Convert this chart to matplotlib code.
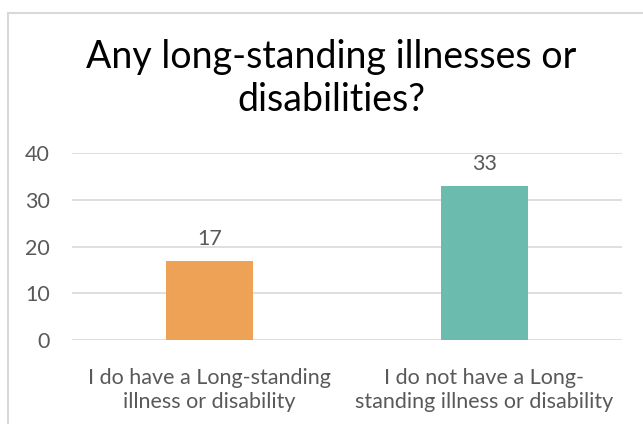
import matplotlib.pyplot as plt
from matplotlib.lines import Line2D

# ---------------- data ----------------
categories = ["I do have a Long-standing\nillness or disability",
              "I do not have a Long-\nstanding illness or disability"]
counts = [17, 33]
bar_colors = ["#EDA256", "#6BBBAE"]
yticks = [0, 10, 20, 30, 40]

text_col = "#595959"
plt.rcParams['font.family'] = ['Lato', 'DejaVu Sans']

fig = plt.figure(figsize=(6.43, 4.24), dpi=100)
ax = fig.add_axes([0.112, 0.198, 0.855, 0.441])

x = list(range(len(categories)))
bars = ax.bar(x, counts, width=0.316, color=bar_colors, zorder=3)
for b, v in zip(bars, counts):
    ax.text(b.get_x() + b.get_width() / 2, v + 2.5, str(v), ha='center', va='bottom',
            fontsize=15.5, color=text_col)

ax.set_xlim(-0.5, 1.5)
ax.set_ylim(0, 40)
ax.set_yticks(yticks)
ax.set_xticks(x)
ax.set_xticklabels(categories, fontsize=15.5, color=text_col, linespacing=1.25)
ax.tick_params(axis='y', labelsize=15.5, labelcolor=text_col, length=0, pad=16)
ax.tick_params(axis='x', length=0, pad=20)
ax.yaxis.grid(True, color='#D9D9D9', linewidth=1.2, zorder=0)
for s in ax.spines.values():
    s.set_visible(False)

fig.text(0.515, 0.815, "Any long-standing illnesses or\ndisabilities?", ha='center', va='center',
         fontsize=27, color='black', linespacing=1.25)

# chart border (top and left visible in the crop)
fig.add_artist(Line2D([0.012, 0.012], [0, 0.9705], color='#D9D9D9', linewidth=1.5))
fig.add_artist(Line2D([0.012, 0.998], [0.9705, 0.9705], color='#D9D9D9', linewidth=1.5))

fig.savefig("out.png", dpi=100)
